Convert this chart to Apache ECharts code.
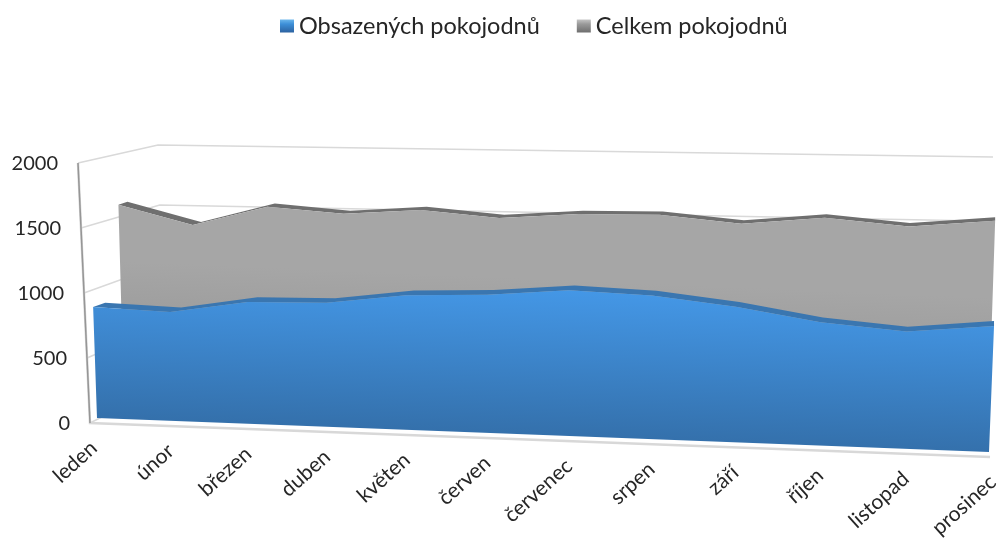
<!DOCTYPE html>
<html>
<head>
<meta charset="utf-8">
<script src="https://cdn.jsdelivr.net/npm/echarts@6/dist/echarts.min.js"></script>
<style>
  html, body { margin: 0; padding: 0; background: #fff; }
  #chart { width: 997px; height: 538px; }
</style>
</head>
<body>
<div id="chart"></div>
<script>
var months = ['leden', 'únor', 'březen', 'duben', 'květen', 'červen', 'červenec', 'srpen', 'září', 'říjen', 'listopad', 'prosinec'];
var obsazenych = [870, 850, 945, 955, 1030, 1050, 1100, 1078, 1012, 915, 865, 925];
var celkem = [1600, 1451, 1605, 1560, 1600, 1550, 1590, 1595, 1540, 1595, 1541, 1594];
var yTicks = [0, 500, 1000, 1500, 2000];
var font = 'Lato, "Noto Sans", sans-serif';

// corners of each depth plane in the picture: bottom left, bottom right, top right, top left
var bluePlane = makeWarp([[97, 418], [989, 452], [1000, 176], [88, 160]]);
var blueBack = makeWarp([[109, 413.5], [989, 447], [1000, 171], [100, 155.5]]);
var greyPlane = makeWarp([[124, 404], [988, 436], [997, 165], [117, 154]]);
var greyBack = makeWarp([[133, 401], [988, 432.5], [997, 161.5], [126, 151]]);
var sideFront = [[90, 423], [78, 163]];
var sideBack = [[165, 385], [158, 145]];
var backRight = [[984, 414], [993, 157]];

// homography from the unit square to a quad
function makeWarp(q) {
    var x0 = q[0][0], y0 = q[0][1], x1 = q[1][0], y1 = q[1][1];
    var x2 = q[2][0], y2 = q[2][1], x3 = q[3][0], y3 = q[3][1];
    var dx1 = x1 - x2, dx2 = x3 - x2, sx = x0 - x1 + x2 - x3;
    var dy1 = y1 - y2, dy2 = y3 - y2, sy = y0 - y1 + y2 - y3;
    var det = dx1 * dy2 - dx2 * dy1;
    var g = (sx * dy2 - dx2 * sy) / det;
    var h = (dx1 * sy - sx * dy1) / det;
    var a = x1 - x0 + g * x1, b = x3 - x0 + h * x3;
    var d = y1 - y0 + g * y1, e = y3 - y0 + h * y3;
    return function (u, v) {
        var w = g * u + h * v + 1;
        return [(a * u + b * v + x0) / w, (d * u + e * v + y0) / w];
    };
}

function lerp(line, v) {
    return [line[0][0] + (line[1][0] - line[0][0]) * v, line[0][1] + (line[1][1] - line[0][1]) * v];
}

// position in the flat grid, 0..1 on both axes
function toUV(params, api, cat, val) {
    var p = api.coord([cat, val]);
    var r = params.coordSys;
    return [(p[0] - r.x) / r.width, 1 - (p[1] - r.y) / r.height];
}

function areaRenderer(values, front, back, topColor, bottomColor, bandColor) {
    return function (params, api) {
        if (params.dataIndex !== 0) return null;
        var outline = [], rear = [];
        values.forEach(function (val, i) {
            var uv = toUV(params, api, i, val);
            outline.push(front(uv[0], uv[1]));
            rear.push(back(uv[0], uv[1]));
        });
        var band = outline.concat(rear.slice().reverse());
        var b0 = toUV(params, api, 0, 0);
        var b1 = toUV(params, api, values.length - 1, 0);
        var start = front(b0[0], b0[1]);
        var end = front(b1[0], b1[1]);
        var face = outline.concat([end, start]);
        var top = toUV(params, api, 0, 1150);
        var gradTop = front(top[0], top[1]);
        return {
            type: 'group',
            children: [
                { type: 'polygon', shape: { points: band }, style: { fill: bandColor } },
                {
                    type: 'polygon',
                    shape: { points: face },
                    style: {
                        fill: {
                            type: 'linear', global: true,
                            x: start[0], y: gradTop[1],
                            x2: start[0] - 6, y2: start[1],
                            colorStops: [{ offset: 0, color: topColor }, { offset: 1, color: bottomColor }]
                        }
                    }
                }
            ]
        };
    };
}

function renderWalls(params, api) {
    if (params.dataIndex !== 0) return null;
    var children = [];
    var wallStyle = { stroke: '#d9d9d9', lineWidth: 1.5, fill: null };
    yTicks.forEach(function (t) {
        var v = toUV(params, api, 0, t)[1];
        children.push({
            type: 'polyline',
            shape: { points: [lerp(sideFront, v), lerp(sideBack, v), lerp(backRight, v)] },
            style: wallStyle
        });
    });
    children.push({
        type: 'polyline',
        shape: { points: [sideFront[1], sideFront[0], [990, 457]] },
        style: { stroke: '#d8d8d8', lineWidth: 2.5, fill: null }
    });
    children.push({
        type: 'line',
        shape: { x1: sideFront[1][0], y1: sideFront[1][1], x2: sideFront[0][0], y2: sideFront[0][1] },
        style: { stroke: '#969696', lineWidth: 1.5 }
    });
    return { type: 'group', children: children };
}

function renderLabels(params, api) {
    if (params.dataIndex !== 0) return null;
    var children = [];
    yTicks.forEach(function (t) {
        var p = lerp(sideFront, toUV(params, api, 0, t)[1]);
        children.push({
            type: 'text',
            style: { x: p[0] - 20, y: p[1] + 1, text: String(t), align: 'right', verticalAlign: 'middle', font: '20px ' + font, fill: '#262626' }
        });
    });
    months.forEach(function (m, i) {
        var uv = toUV(params, api, i, 0);
        var p = bluePlane(uv[0], uv[1]);
        children.push({
            type: 'text',
            x: p[0] - 3 + 7 * uv[0],
            y: p[1] + 27,
            rotation: 42 * Math.PI / 180,
            style: { x: 0, y: 0, text: m, align: 'right', verticalAlign: 'middle', font: '21px ' + font, fill: '#262626' }
        });
    });
    return { type: 'group', children: children };
}

function iconFill(top, mid, bottom) {
    return {
        type: 'linear', x: 0, y: 0, x2: 0, y2: 1,
        colorStops: [{ offset: 0, color: top }, { offset: 0.35, color: mid }, { offset: 1, color: bottom }]
    };
}

var chart = echarts.init(document.getElementById('chart'));
chart.setOption({
    animation: false,
    backgroundColor: '#fff',
    legend: {
        left: 275,
        top: 9,
        itemWidth: 14,
        itemHeight: 13,
        itemGap: 37,
        icon: 'rect',
        data: ['Obsazených pokojodnů', 'Celkem pokojodnů'],
        textStyle: { fontFamily: font, fontSize: 23.5, color: '#262626' }
    },
    grid: { left: 78, top: 163, width: 912, height: 260 },
    xAxis: { type: 'category', data: months, boundaryGap: false, show: false },
    yAxis: { type: 'value', min: 0, max: 2000, interval: 500, show: false },
    series: [
        {
            name: 'walls', type: 'custom', z: 1, silent: true,
            data: obsazenych.map(function (v, i) { return [i, v]; }),
            renderItem: renderWalls
        },
        {
            name: 'Celkem pokojodnů', type: 'custom', z: 2, silent: true,
            itemStyle: { color: iconFill('#c4c4c4', '#9a9a9a', '#6e6e6e') },
            data: celkem.map(function (v, i) { return [i, v]; }),
            renderItem: areaRenderer(celkem, greyPlane, greyBack, '#a6a6a6', '#8f8f8f', '#6f6f6f')
        },
        {
            name: 'Obsazených pokojodnů', type: 'custom', z: 3, silent: true,
            itemStyle: { color: iconFill('#6cb6ec', '#3d8fd8', '#2c62a0') },
            data: obsazenych.map(function (v, i) { return [i, v]; }),
            renderItem: areaRenderer(obsazenych, bluePlane, blueBack, '#4497e6', '#3470ab', '#3a76b0')
        },
        {
            name: 'labels', type: 'custom', z: 4, silent: true,
            data: obsazenych.map(function (v, i) { return [i, v]; }),
            renderItem: renderLabels
        }
    ]
});
</script>
</body>
</html>
